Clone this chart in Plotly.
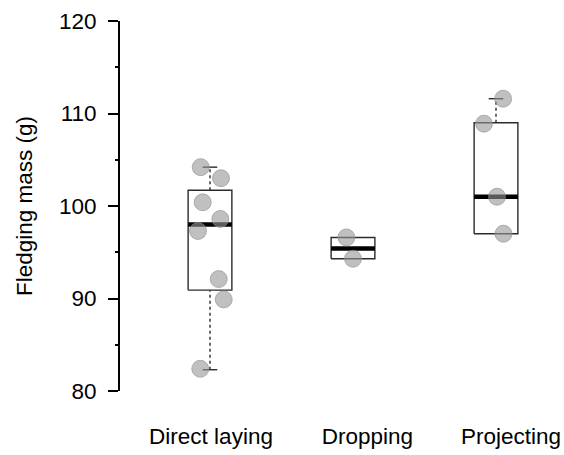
import plotly.graph_objects as go

# ---- data ----
categories = ["Direct laying", "Dropping", "Projecting"]
q1 = [90.9, 94.3, 97.0]
median = [98.0, 95.4, 101.0]
q3 = [101.7, 96.6, 109.0]
lower_whisker = [82.3, 94.3, 97.0]
upper_whisker = [104.2, 96.6, 111.6]

points_direct = [104.2, 103.0, 100.4, 98.6, 97.3, 92.1, 89.9, 82.4]
jitter_direct = [-0.065, 0.077, -0.051, 0.072, -0.084, 0.061, 0.096, -0.068]
points_dropping = [96.6, 94.3]
jitter_dropping = [-0.046, 0.0]
points_projecting = [111.6, 108.9, 101.0, 97.0]
jitter_projecting = [0.05, -0.084, 0.007, 0.052]

y_ticks = [80, 90, 100, 110, 120]

FONT = "Liberation Sans, Arial, sans-serif"
FS = 22.5
box_half = 0.153
cap_half = 0.051
box_col = "#2b2b2b"
label_shift = [0.007, 0.10, 0.105]  # category labels sit slightly right of boxes

fig = go.Figure()

for i, cat in enumerate(categories):
    c = i + 1
    # box rectangle
    fig.add_trace(go.Scatter(
        x=[c - box_half, c + box_half, c + box_half, c - box_half, c - box_half],
        y=[q1[i], q1[i], q3[i], q3[i], q1[i]],
        mode="lines", line=dict(color=box_col, width=1.4),
        hoverinfo="skip", showlegend=False))
    # whiskers (dashed) + caps
    if upper_whisker[i] > q3[i]:
        fig.add_trace(go.Scatter(x=[c, c], y=[q3[i], upper_whisker[i]], mode="lines",
                                 line=dict(color=box_col, width=1.4, dash="3px,3px"),
                                 hoverinfo="skip", showlegend=False))
        fig.add_trace(go.Scatter(x=[c - cap_half, c + cap_half], y=[upper_whisker[i]] * 2,
                                 mode="lines", line=dict(color=box_col, width=1.4),
                                 hoverinfo="skip", showlegend=False))
    if lower_whisker[i] < q1[i]:
        fig.add_trace(go.Scatter(x=[c, c], y=[lower_whisker[i], q1[i]], mode="lines",
                                 line=dict(color=box_col, width=1.4, dash="3px,3px"),
                                 hoverinfo="skip", showlegend=False))
        fig.add_trace(go.Scatter(x=[c - cap_half, c + cap_half], y=[lower_whisker[i]] * 2,
                                 mode="lines", line=dict(color=box_col, width=1.4),
                                 hoverinfo="skip", showlegend=False))
    # median
    fig.add_trace(go.Scatter(x=[c - box_half, c + box_half], y=[median[i]] * 2,
                             mode="lines", line=dict(color="black", width=4.5),
                             hoverinfo="skip", showlegend=False))

all_points = [points_direct, points_dropping, points_projecting]
all_jitter = [jitter_direct, jitter_dropping, jitter_projecting]
for i, (pts, jit) in enumerate(zip(all_points, all_jitter)):
    fig.add_trace(go.Scatter(
        x=[i + 1 + j for j in jit], y=pts, mode="markers",
        marker=dict(size=17, color="rgba(150,150,150,0.6)",
                    line=dict(color="rgba(140,140,140,0.6)", width=1)),
        cliponaxis=False, showlegend=False))

fig.update_layout(
    width=564, height=455,
    margin=dict(l=120, r=0, t=21, b=64),
    paper_bgcolor="white", plot_bgcolor="white",
    font=dict(family=FONT, size=FS, color="black"),
    showlegend=False,
    xaxis=dict(range=[1 - 90 / 143, 1 + 354 / 143], showline=False, showgrid=False,
               zeroline=False, tickvals=[i + 1 + s for i, s in enumerate(label_shift)],
               ticktext=categories, ticks="",
               ticklabelstandoff=29, tickfont=dict(size=FS, family=FONT)),
    yaxis=dict(range=[80, 120], showline=True, linecolor="black", linewidth=2,
               showgrid=False, zeroline=False, tickvals=y_ticks, ticks="outside",
               ticklen=10, tickwidth=1.5, tickcolor="black", ticklabelstandoff=7,
               tickfont=dict(size=FS, family=FONT),
               minor=dict(dtick=5, ticks="outside", ticklen=3, tickwidth=1.5,
                          tickcolor="black", showgrid=False)),
    annotations=[dict(text="Fledging mass (g)", textangle=-90, xref="paper", yref="paper",
                      x=(24 - 120) / 444, y=0.5, xanchor="center", yanchor="middle",
                      showarrow=False, font=dict(size=FS, family=FONT, color="black"))],
)

fig.write_html("out.html")
